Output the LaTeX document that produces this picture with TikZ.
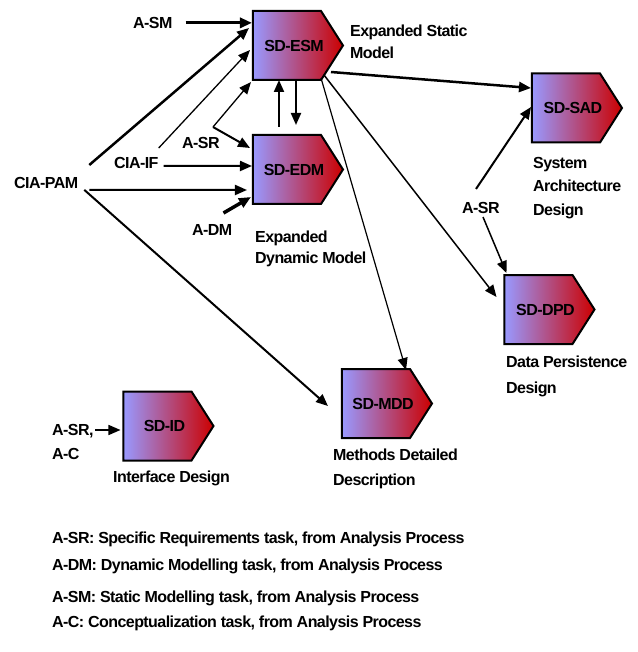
\documentclass[tikz,border=0pt]{standalone}
\usepackage{fontspec}
\newfontfamily\arialfont[LetterSpace=-3.5]{Liberation Sans}
\usetikzlibrary{shapes.symbols,arrows.meta}
\definecolor{sdblue}{RGB}{153,153,255}
\definecolor{sdred}{RGB}{204,0,0}

\begin{document}
\begin{tikzpicture}[x=1pt,y=-1pt,
  font=\arialfont\bfseries\fontsize{16}{22}\selectfont,
  sd/.style={signal,signal to=east,signal pointer angle=115,minimum width=90pt,minimum height=69pt,inner sep=0pt,left color=sdblue,right color=sdred,draw=black,line width=2pt,execute at begin node=\kern7pt,execute at end node=\kern-7pt},
  lbl/.style={anchor=north west,inner sep=0pt,align=left},
  arr/.style={-{Triangle[length=12pt,width=10pt]},line width=#1},
  arr/.default=2pt]
\useasboundingbox (0,0) rectangle (637,652);

% process boxes
\node[sd] (esm) at (287,45.5) {SD-ESM};
\node[sd] (edm) at (287,169.5) {SD-EDM};
\node[sd] (sad) at (566,108) {SD-SAD};
\node[sd] (dpd) at (538.5,309.5) {SD-DPD};
\node[sd] (mdd) at (376,403.5) {SD-MDD};
\node[sd] (id) at (157.5,426) {SD-ID};

% inputs
\node[lbl] (asm) at (133,17) {A-SM};
\node[lbl] (ciapam) at (14,177) {CIA-PAM};
\node[lbl] (ciaif) at (114,157) {CIA-IF};
\node[lbl] (asrl) at (182,137) {A-SR};
\node[lbl] (adm) at (192,224) {A-DM};
\node[lbl] (asrr) at (462,202) {A-SR};
\node[lbl] (asrc) at (52,424) {A-SR,\\[2pt]A-C};
\coordinate (srfork) at (213,127);

% box captions
\node[lbl] (esmtxt) at (350,25) {Expanded Static\\Model};
\node[lbl] (edmtxt) at (255,231) {Expanded\\[-1pt]Dynamic Model};
\node[lbl] (sadtxt) at (533,157) {System\\[1.5pt]Architecture\\[1.5pt]Design};
\node[lbl] (dpdtxt) at (506,356) {Data Persistence\\[4pt]Design};
\node[lbl] (mddtxt) at (333,449) {Methods Detailed\\[3pt]Description};
\node[lbl] (idtxt) at (113,471) {Interface Design};

% legend
\node[lbl] (leg1) at (52,532) {A-SR: Specific Requirements task, from Analysis Process};
\node[lbl] (leg2) at (52,559) {A-DM: Dynamic Modelling task, from Analysis Process};
\node[lbl] (leg3) at (52,591) {A-SM: Static Modelling task, from Analysis Process};
\node[lbl] (leg4) at (52,616) {A-C: Conceptualization task, from Analysis Process};

% into SD-ESM
\draw[arr=3pt] ([shift={(13,0)}]asm.east) -- (esm.west |- asm.east);
\draw[arr=2.5pt] ([shift={(11,-12)}]ciapam.north east) -- ([shift={(-3,-17.5)}]esm.west);
\draw[arr=1.3pt] ([shift={(0,-9)}]ciaif.north east) -- ([shift={(-2,4.5)}]esm.west);
\draw[arr=1.3pt] (srfork) -- ([shift={(-1,36.5)}]esm.west);

% into SD-EDM
\draw[arr=2pt] (srfork) -- ([shift={(-2,-21.5)}]edm.west);
\draw[arr] ([shift={(5,3)}]ciaif.east) -- ([shift={(0,-3.5)}]edm.west);
\draw[arr] ([shift={(11,7)}]ciapam.east) -- ([shift={(-5,20.5)}]edm.west);
\draw[arr=3.5pt] ([shift={(-9,-11)}]adm.north east) -- ([shift={(-1,27.5)}]edm.west);
\draw[arr] ([shift={(27,-42.5)}]edm.west) -- ([shift={(27,34.5)}]esm.west);
\draw[arr] ([shift={(44,34.5)}]esm.west) -- ([shift={(44,-44.5)}]edm.west);

% out of SD-ESM
\draw[arr=2.5pt] ([shift={(79,26.5)}]esm.west) -- ([shift={(0,-20)}]sad.west);
\draw[arr=1.5pt] ([shift={(72,29.5)}]esm.west) -- ([shift={(-7,-12.5)}]dpd.west);
\draw[arr=1.2pt] ([shift={(69,32.5)}]esm.west) -- ([shift={(65,-33.5)}]mdd.west);

% others
\draw[arr] ([shift={(6,7)}]ciapam.east) -- ([shift={(-13,2.5)}]mdd.west);
\draw[arr] ([shift={(14,-13)}]asrr.north west) -- ([shift={(0,-1)}]sad.west);
\draw[arr=1.5pt] ([shift={(21,15)}]asrr.north west) -- ([shift={(3,-36.5)}]dpd.west);
\draw[arr=1.5pt] ([shift={(43,6)}]asrc.north west) -- ([shift={(-2,4)}]id.west);
\end{tikzpicture}
\end{document}
